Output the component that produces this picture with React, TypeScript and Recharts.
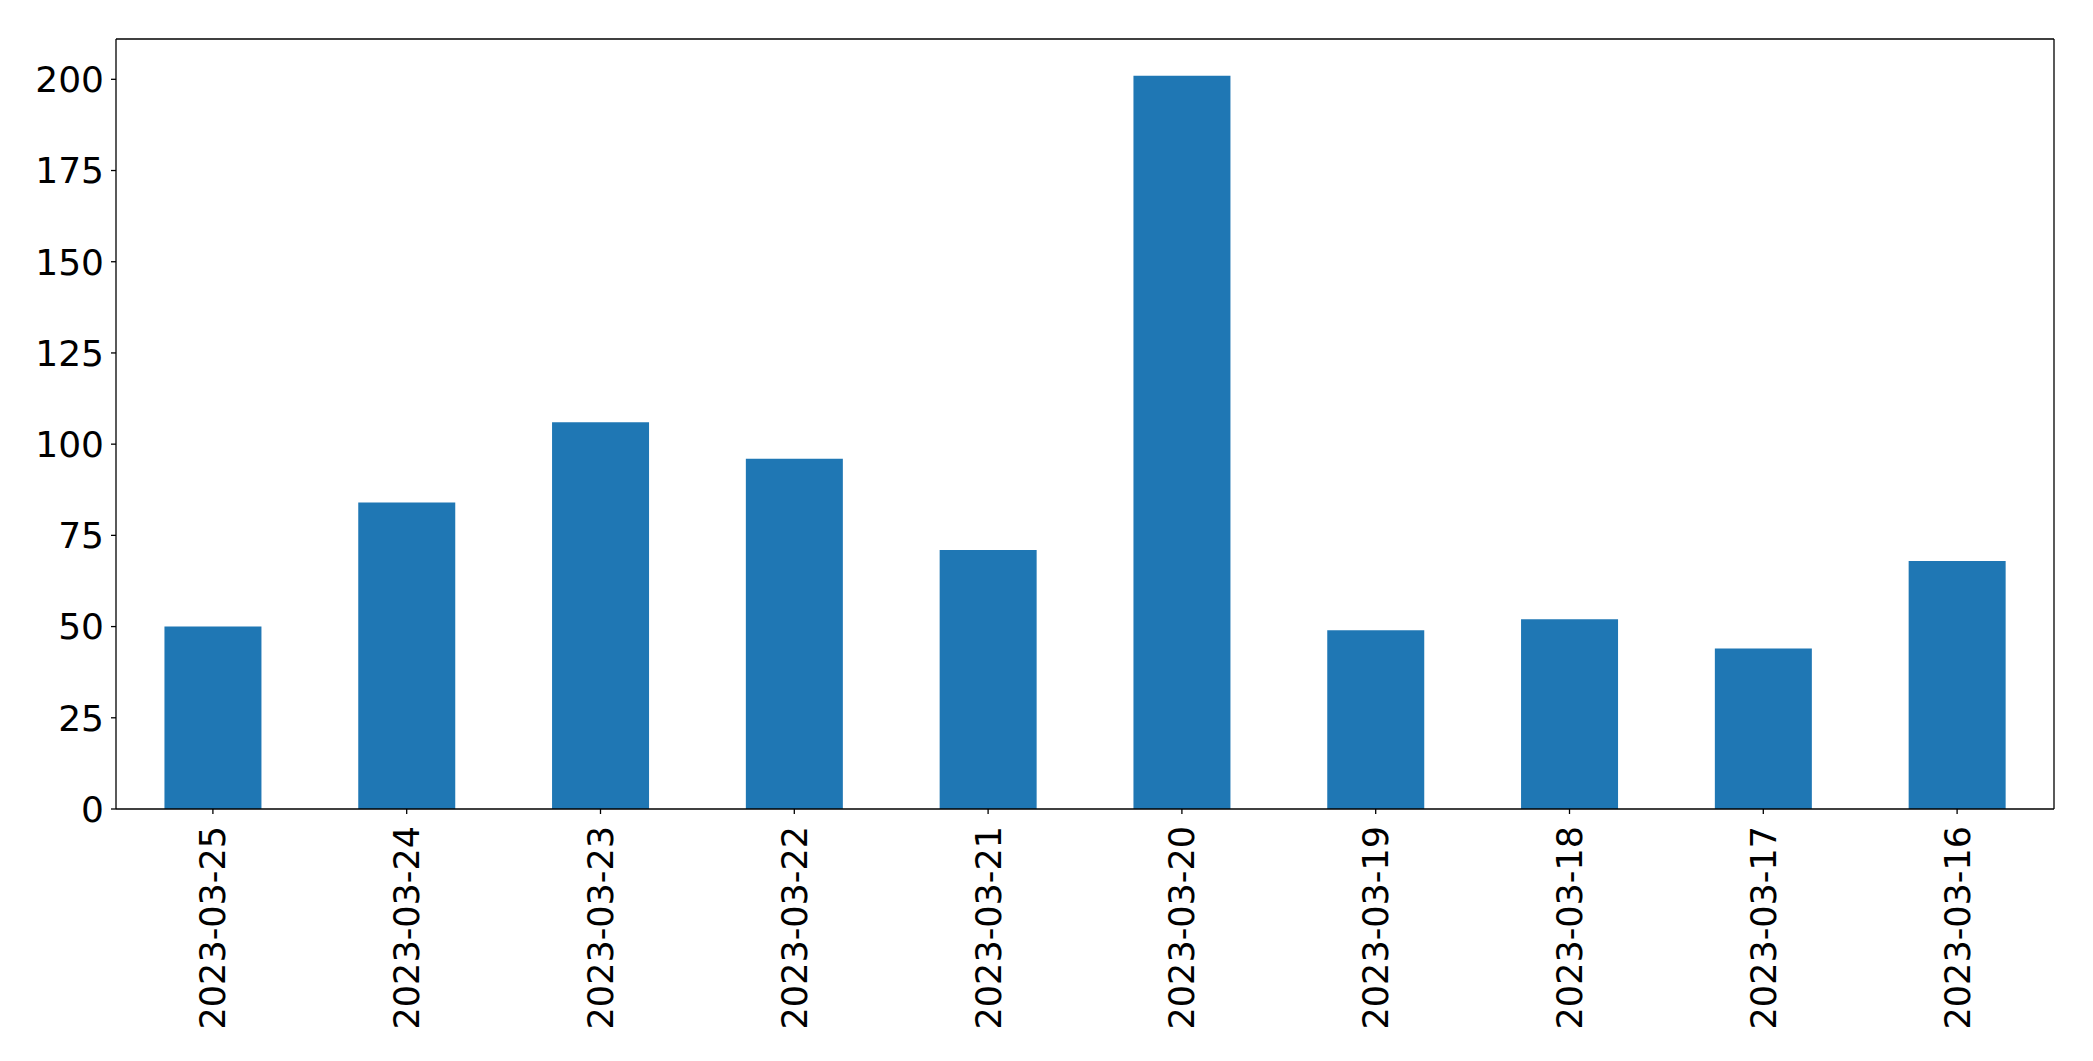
import React from "react";
import { Bar, BarChart, XAxis, YAxis } from "recharts";

const dates = [
  "2023-03-25",
  "2023-03-24",
  "2023-03-23",
  "2023-03-22",
  "2023-03-21",
  "2023-03-20",
  "2023-03-19",
  "2023-03-18",
  "2023-03-17",
  "2023-03-16",
];
const counts = [50, 84, 106, 96, 71, 201, 49, 52, 44, 68];
const yTicks = [0, 25, 50, 75, 100, 125, 150, 175, 200];

const data = dates.map((date, i) => ({ date, count: counts[i] }));

const FONT = "'DejaVu Sans', sans-serif";
const AXIS = { stroke: "#000", strokeWidth: 1.3 };

function DateTick({ x, y, payload }: any) {
  return (
    <text
      x={x}
      y={y}
      dy="0.36em"
      textAnchor="end"
      transform={`rotate(-90, ${x}, ${y})`}
      fontSize={35}
      fontFamily={FONT}
      fill="#000"
    >
      {payload.value}
    </text>
  );
}

export default function App() {
  return (
    <div style={{ position: "absolute", left: 0, top: 0, background: "#fff" }}>
      <BarChart
        width={2093}
        height={1061}
        data={data}
        margin={{ top: 38, right: 38, bottom: 0, left: 0 }}
        barCategoryGap="25%"
      >
        <XAxis
          dataKey="date"
          height={252}
          interval={0}
          tick={<DateTick />}
          tickSize={5}
          tickMargin={12}
          axisLine={AXIS}
          tickLine={AXIS}
        />
        <XAxis
          xAxisId="top"
          dataKey="date"
          orientation="top"
          height={1}
          tick={false}
          tickLine={false}
          axisLine={AXIS}
        />
        <YAxis
          width={116}
          domain={[0, 211.05]}
          ticks={yTicks}
          interval={0}
          tickSize={5}
          tickMargin={7}
          tick={{ fontSize: 36, fontFamily: FONT, fill: "#000" }}
          axisLine={AXIS}
          tickLine={AXIS}
        />
        <YAxis
          yAxisId="right"
          orientation="right"
          width={1}
          domain={[0, 1]}
          tick={false}
          tickLine={false}
          axisLine={AXIS}
        />
        <Bar dataKey="count" fill="#1f77b4" isAnimationActive={false} />
      </BarChart>
    </div>
  );
}
